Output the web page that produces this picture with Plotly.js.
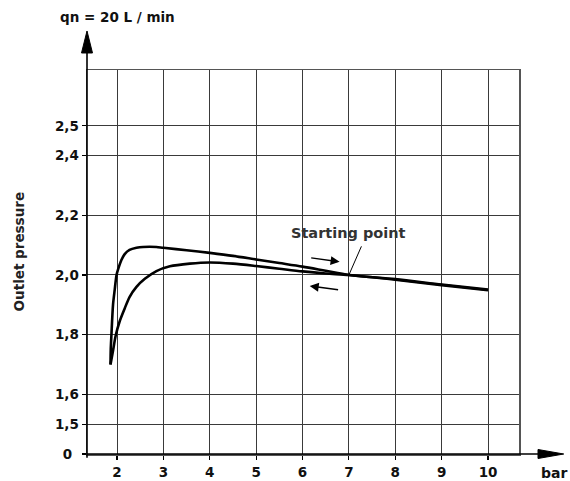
<!DOCTYPE html>
<html>
<head>
<meta charset="utf-8">
<script src="https://cdn.plot.ly/plotly-3.0.1.min.js"></script>
<style>html,body{margin:0;padding:0;background:#fff;}#chart{width:570px;height:481px;}</style>
</head>
<body>
<div id="chart"></div>
<script>
// Tick positions and labels
const xTickVals = [2, 3, 4, 5, 6, 7, 8, 9, 10];
const yTickVals = [1.4, 1.5, 1.6, 1.8, 2.0, 2.2, 2.4, 2.5];
const yTickText = ['0\u2002', '1,5', '1,6', '1,8', '2,0', '2,2', '2,4', '2,5'];

// Outer branch of the hysteresis loop
const outerX = [1.86, 1.865, 1.88, 1.914, 1.95, 1.99, 2.02, 2.095, 2.166, 2.27, 2.42, 2.56, 2.85, 3.0, 3.5, 4.0, 4.5, 5.0, 5.5, 6.0, 6.5, 7.0, 8.0, 9.0, 10.0];
const outerY = [1.70, 1.75, 1.80, 1.90, 1.95, 2.00, 2.017, 2.050, 2.070, 2.084, 2.091, 2.094, 2.094, 2.091, 2.083, 2.074, 2.064, 2.052, 2.040, 2.028, 2.014, 2.000, 1.986, 1.968, 1.951];

// Inner branch of the hysteresis loop
const innerX = [1.86, 1.914, 1.972, 2.058, 2.166, 2.27, 2.42, 2.6, 2.85, 3.14, 3.57, 4.0, 4.5, 5.0, 5.5, 6.0, 6.5, 7.0, 8.0, 9.0, 10.0];
const innerY = [1.70, 1.746, 1.797, 1.845, 1.888, 1.926, 1.960, 1.987, 2.013, 2.029, 2.038, 2.042, 2.038, 2.030, 2.021, 2.012, 2.005, 2.000, 1.984, 1.966, 1.949];

const FONT = 'DejaVu Sans, Liberation Sans, Arial, sans-serif';

const traces = [
  {x: outerX, y: outerY, type: 'scatter', mode: 'lines',
   line: {color: '#000', width: 2.6, shape: 'spline', smoothing: 0.8}, hoverinfo: 'skip'},
  {x: innerX, y: innerY, type: 'scatter', mode: 'lines',
   line: {color: '#000', width: 2.6, shape: 'spline', smoothing: 0.8}, hoverinfo: 'skip'}
];

const layout = {
  width: 570, height: 481,
  margin: {l: 87, r: 51, t: 70, b: 27},
  paper_bgcolor: '#fff', plot_bgcolor: '#fff',
  showlegend: false,
  font: {family: FONT, size: 13, color: '#111', weight: 'bold'},
  xaxis: {
    range: [1.353, 10.668], tickvals: xTickVals, ticktext: xTickVals.map(String),
    showgrid: true, gridcolor: '#3a3a3a', gridwidth: 1, zeroline: false,
    showline: true, mirror: true, linecolor: '#555', linewidth: 1.5,
    ticks: 'outside', ticklen: 4, tickcolor: '#000', tickwidth: 1.2,
    ticklabelstandoff: 1,
    tickfont: {family: FONT, size: 13.5, color: '#111', weight: 'bold'},
    fixedrange: true
  },
  yaxis: {
    range: [1.4, 2.687], tickvals: yTickVals, ticktext: yTickText,
    showgrid: true, gridcolor: '#3a3a3a', gridwidth: 1, zeroline: false,
    showline: true, mirror: true, linecolor: '#555', linewidth: 1.5,
    ticks: 'outside', ticklen: 4, tickcolor: '#000', tickwidth: 1.2,
    tickfont: {family: FONT, size: 13.5, color: '#111', weight: 'bold'},
    fixedrange: true
  },
  shapes: [
    // y axis with arrow
    {type: 'line', xref: 'paper', yref: 'paper', x0: 0, x1: 0, y0: -0.01, y1: 1.05,
     line: {color: '#000', width: 1.6}},
    {type: 'path', xref: 'paper', yref: 'paper', path: 'M -0.0127 1.0443 L 0 1.1016 L 0.0127 1.0443 Z',
     fillcolor: '#000', line: {color: '#000', width: 1}},
    // x axis with arrow
    {type: 'line', xref: 'paper', yref: 'paper', x0: 0, x1: 1.05, y0: 0, y1: 0,
     line: {color: '#000', width: 1.6}},
    {type: 'path', xref: 'paper', yref: 'paper', path: 'M 1.044 0.0117 L 1.1035 0 L 1.044 -0.0117 Z',
     fillcolor: '#000', line: {color: '#000', width: 1}},
    // leader line for "Starting point"
    {type: 'line', xref: 'x', yref: 'y', x0: 7.0, y0: 2.0, x1: 7.27, y1: 2.096,
     line: {color: '#000', width: 1}}
  ],
  annotations: [
    {text: 'qn = 20 L / min', xref: 'paper', yref: 'paper', x: -0.068, y: 1.138,
     xanchor: 'left', yanchor: 'middle', showarrow: false,
     font: {family: FONT, size: 13.5, color: '#111', weight: 'bold'}},
    {text: 'Outlet pressure', xref: 'paper', yref: 'paper', x: -0.158, y: 0.527,
     xanchor: 'center', yanchor: 'middle', textangle: -90, showarrow: false,
     font: {family: FONT, size: 13.5, color: '#222', weight: 'bold'}},
    {text: 'bar', xref: 'paper', yref: 'paper', x: 1.0456, y: -0.05,
     xanchor: 'left', yanchor: 'middle', showarrow: false,
     font: {family: FONT, size: 14, color: '#111', weight: 'bold'}},
    {text: 'Starting point', xref: 'x', yref: 'y', x: 7.0, y: 2.142,
     xanchor: 'center', yanchor: 'middle', showarrow: false,
     font: {family: FONT, size: 14.5, color: '#333', weight: 'bold'}},
    // direction arrows
    {text: '', xref: 'x', yref: 'y', x: 6.80, y: 2.044, axref: 'x', ayref: 'y', ax: 6.155, ay: 2.058,
     showarrow: true, arrowhead: 2, arrowsize: 1.2, arrowwidth: 1.5, arrowcolor: '#000'},
    {text: '', xref: 'x', yref: 'y', x: 6.155, y: 1.963, axref: 'x', ayref: 'y', ax: 6.80, ay: 1.950,
     showarrow: true, arrowhead: 2, arrowsize: 1.2, arrowwidth: 1.5, arrowcolor: '#000'}
  ]
};

Plotly.newPlot('chart', traces, layout, {staticPlot: true, displayModeBar: false});
</script>
</body>
</html>
